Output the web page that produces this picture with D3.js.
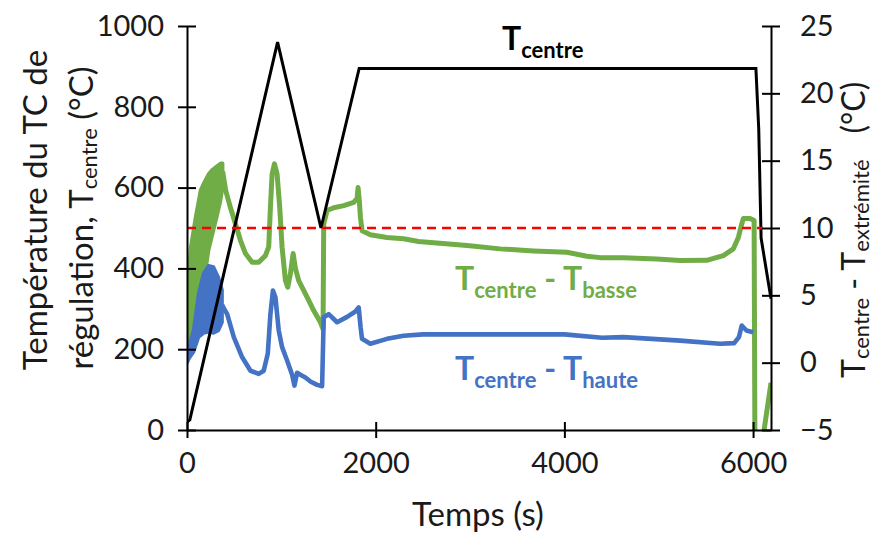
<!DOCTYPE html>
<html><head><meta charset="utf-8">
<script src="https://cdn.jsdelivr.net/npm/d3@7"></script>
<style>
html,body{margin:0;padding:0;background:#fff;}
text{font-family:Lato,"Open Sans",sans-serif;}
</style></head>
<body><svg id="c" width="880" height="533"></svg>
<script>
// ---- data ----
const xTicks = [0, 2000, 4000, 6000];
const leftTicks = [0, 200, 400, 600, 800, 1000];
const rightTicks = [-5, 0, 5, 10, 15, 20, 25];

// T centre (left axis, °C)
const centreTime = [0, 30, 960, 1420, 1825, 6030, 6060, 6085, 6190];
const centreTemp = [20, 25, 960, 500, 895, 895, 745, 475, 325];

// T centre - T basse (right axis, °C)
// envelope of the fast oscillation at start-up
const basseBandTime = [0, 20, 37, 90, 143, 182, 228, 263, 316, 355, 378];
const basseBandHigh = [0, 6.7, 8.5, 10.8, 12.8, 13.4, 14.0, 14.3, 14.6, 14.8, 14.8];
const basseBandLow  = [0, 0.3, 0.6, 1.4, 3.2, 6.0, 8.3, 9.3, 10.8, 12.0, 13.0];
// then the signal itself
const basseTime = [378,410,461,514,567,620,690,760,831,866,884,902,927,955,983,1008,1043,1068,1096,1125,1149,1184,1273,1343,1414,1442,1449,1485,1555,1661,1767,1803,1813,1827,1838,1856,1943,2120,2296,2455,2614,2968,3320,3673,4027,4238,4380,4626,4980,5227,5509,5685,5791,5844,5880,5897,5968,6011,6020,6075,6190];
const basseDiff = [14.2,12.8,11.5,10.3,9.07,8.1,7.46,7.46,7.95,8.6,11.5,14.0,14.76,14.0,11.5,8.57,6.1,5.6,6.6,8.1,7.0,6.1,4.86,3.87,3.0,2.5,10.3,11.3,11.5,11.66,11.9,12.2,13.0,12.0,10.8,9.8,9.5,9.3,9.2,9.0,8.9,8.7,8.45,8.3,8.2,7.9,7.8,7.8,7.7,7.58,7.6,7.95,8.45,9.3,10.3,10.7,10.7,10.55,-7,-7,-1.5];

// T centre - T haute (right axis, °C); null = no data
const hauteBandTime = [0, 20, 69, 122, 175, 228, 281, 334, 372];
const hauteBandHigh = [0, 1.2, 2.4, 5.1, 6.6, 7.2, 7.1, 6.3, 5.4];
const hauteBandLow  = [0, 0.3, 0.8, 1.9, 2.2, 2.3, 2.2, 2.4, 3.0];
const hauteTime = [372,385,426,496,585,673,760,813,856,884,911,937,972,1008,1061,1114,1139,1167,1202,1255,1308,1379,1432,1449,1502,1591,1697,1785,1820,1840,1855,1943,2120,2296,2500,3000,3500,4000,4400,4626,5227,5650,5800,5850,5880,5930,6000,6100,6170,6195];
const hauteDiff = [4.3,4.1,3.6,1.9,0.4,-0.6,-0.83,-0.6,0.66,3.6,5.36,4.86,2.4,1.15,0.16,-0.9,-1.7,-0.75,-0.9,-1.1,-1.4,-1.65,-1.75,3.37,3.6,3.0,3.4,3.8,4.1,2.63,1.77,1.4,1.77,2.0,2.1,2.1,2.1,2.1,1.85,1.9,1.64,1.4,1.45,1.9,2.76,2.39,2.26,null,-7,-5];

// limit line (right axis)
const limitTime = [0, 6100];
const limitValue = [10, 10];

// ---- chart ----
const svg = d3.select("#c");
const L = 187, R = 771, T = 26, B = 430;
const x = d3.scaleLinear().domain([0, 6190]).range([L, R]);
const yL = d3.scaleLinear().domain([0, 1000]).range([B, T]);
const yR = d3.scaleLinear().domain([-5, 25]).range([B, T]);

svg.append("defs").append("clipPath").attr("id","clip")
  .append("rect").attr("x", L).attr("y", T).attr("width", R - L).attr("height", B - T);

const plot = svg.append("g").attr("clip-path", "url(#clip)");

const zip = (a, b) => a.map((t, i) => [t, b[i]]);
const lineR = d3.line().defined(d => d[1] !== null).x(d => x(d[0])).y(d => yR(d[1]));
const lineL = d3.line().x(d => x(d[0])).y(d => yL(d[1]));
const bandR = d3.area().x(d => x(d.t)).y0(d => yR(d.lo)).y1(d => yR(d.hi));
const band = (ts, hi, lo) => ts.map((t, i) => ({t, hi: hi[i], lo: lo[i]}));

const GREEN = "#70AD47", BLUE = "#4472C4";
plot.append("path").datum(band(basseBandTime, basseBandHigh, basseBandLow)).attr("d", bandR)
  .attr("fill", GREEN).attr("stroke", GREEN).attr("stroke-width", 3.5).attr("stroke-linejoin","round");
plot.append("path").datum(zip(basseTime, basseDiff)).attr("d", lineR)
  .attr("fill","none").attr("stroke",GREEN).attr("stroke-width",5).attr("stroke-linejoin","round");
plot.append("path").datum(band(hauteBandTime, hauteBandHigh, hauteBandLow)).attr("d", bandR)
  .attr("fill", BLUE).attr("stroke", BLUE).attr("stroke-width", 3.5).attr("stroke-linejoin","round");
plot.append("path").datum(zip(hauteTime, hauteDiff)).attr("d", lineR)
  .attr("fill","none").attr("stroke",BLUE).attr("stroke-width",4.6).attr("stroke-linejoin","round");
plot.append("path").datum(zip(centreTime, centreTemp)).attr("d", lineL)
  .attr("fill","none").attr("stroke","#000").attr("stroke-width",3);
plot.append("path").datum(zip(limitTime, limitValue)).attr("d", lineR)
  .attr("fill","none").attr("stroke","#FF0000").attr("stroke-width",2.5).attr("stroke-dasharray","9,6");

// axes
const fs = 29;
const tc = "#1a1a1a";
function styleAxis(g){
  g.select(".domain").attr("stroke","#000").attr("stroke-width",2);
  g.selectAll(".tick line").attr("stroke","#000").attr("stroke-width",2);
  g.selectAll(".tick text").attr("font-size", fs).attr("fill",tc).attr("font-family","Lato");
}
const gx = svg.append("g").attr("transform",`translate(0,${B})`)
  .call(d3.axisBottom(x).tickValues(xTicks).tickFormat(d3.format("d")).tickSize(8).tickSizeOuter(0).tickPadding(14));
gx.selectAll(".tick line").attr("y1",-8);
styleAxis(gx);

const gl = svg.append("g").attr("transform",`translate(${L},0)`)
  .call(d3.axisLeft(yL).tickValues(leftTicks).tickFormat(d3.format("d")).tickSize(9).tickSizeOuter(0).tickPadding(14));
gl.selectAll(".tick line").attr("x1",9);
styleAxis(gl);

const gr = svg.append("g").attr("transform",`translate(${R},0)`)
  .call(d3.axisRight(yR).tickValues(rightTicks).tickFormat(d3.format("d")).tickSize(9).tickSizeOuter(0).tickPadding(20));
gr.selectAll(".tick line").attr("x1",-9);
styleAxis(gr);

// titles
const TF = 33, SF = 22;
svg.append("text").attr("x", 478).attr("y", 526).attr("text-anchor","middle")
  .attr("font-size", TF).attr("fill", tc).text("Temps (s)");

svg.append("text").attr("transform","translate(34,210) rotate(-90)")
  .attr("text-anchor","middle").attr("dominant-baseline","central").attr("font-size",TF).attr("fill",tc)
  .text("Température du TC de");
const lt2 = svg.append("text").attr("transform","translate(80,218) rotate(-90)")
  .attr("text-anchor","middle").attr("dominant-baseline","central").attr("font-size",TF).attr("fill",tc);
lt2.append("tspan").text("régulation, T");
lt2.append("tspan").attr("font-size",SF).attr("dy",8).text("centre");
lt2.append("tspan").attr("dy",-8).text(" (°C)");

const rt = svg.append("text").attr("transform","translate(852,378) rotate(-90)")
  .attr("text-anchor","start").attr("dominant-baseline","central").attr("font-size",32).attr("fill",tc);
rt.append("tspan").text("T");
rt.append("tspan").attr("font-size",SF).attr("dy",8).text("centre");
rt.append("tspan").attr("dy",-8).text(" - T");
rt.append("tspan").attr("font-size",SF).attr("dy",8).text("extrémité");
rt.append("tspan").attr("dy",-8).attr("dx",26).text("(°C)");

function subLabel(xp, yp, color, parts){
  const t = svg.append("text").attr("x",xp).attr("y",yp).attr("font-weight","bold").attr("fill",color).attr("font-size",32);
  let down = false;
  parts.forEach(([txt, sub]) => {
    const s = t.append("tspan").text(txt);
    if (sub && !down){ s.attr("font-size",22).attr("dy",8); down = true; }
    else if (!sub && down){ s.attr("dy",-8); down = false; }
  });
  return t;
}
subLabel(502, 50, "#000", [["T",false],["centre",true]]);
subLabel(455, 290, GREEN, [["T",false],["centre",true],[" - T",false],["basse",true]]);
subLabel(455, 380, BLUE, [["T",false],["centre",true],[" - T",false],["haute",true]]);
</script></body></html>
